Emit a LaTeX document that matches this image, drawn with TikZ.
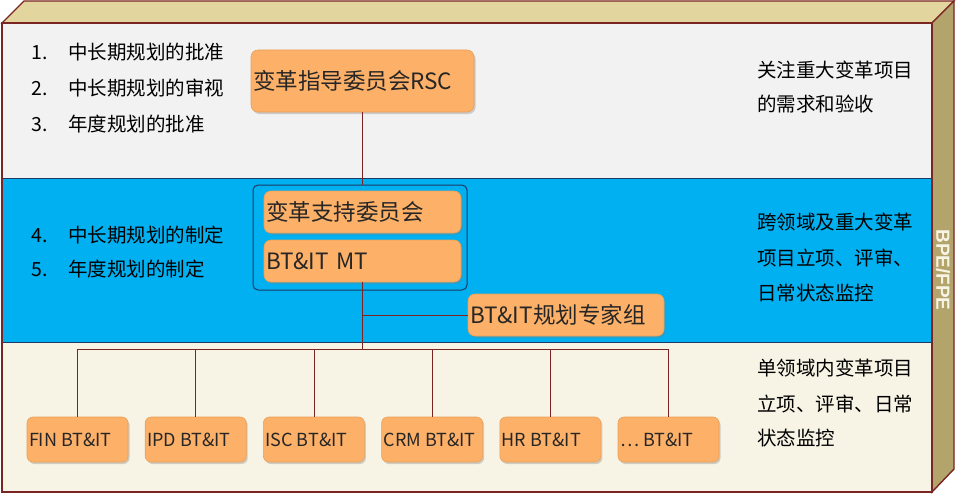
\documentclass[tikz,border=0pt]{standalone}
\usepackage{fontspec}
\setmainfont{Noto Sans CJK SC}
\newfontfamily\sidefont{Liberation Sans}
\usepackage{xcolor}
\usetikzlibrary{positioning,shadows}
\definecolor{frameRed}{HTML}{7B2424}
\definecolor{topFace}{HTML}{E2D69E}
\definecolor{sideFace}{HTML}{B3A46C}
\definecolor{bandGray}{HTML}{F2F2F2}
\definecolor{bandBlue}{HTML}{00B0F0}
\definecolor{bandCream}{HTML}{F8F4E5}
\definecolor{boxOrange}{HTML}{FDB068}
\definecolor{boxEdge}{HTML}{E9A15A}
\definecolor{navyLine}{HTML}{1F3864}
\definecolor{inkGray}{HTML}{262626}
\newcommand{\bigfs}{\fontsize{22.5}{25}\selectfont}
\newcommand{\notefs}{\fontsize{19.5}{22}\selectfont}
\newcommand{\unitfs}{\fontsize{18}{20}\selectfont}
\tikzset{
  role/.style  ={rectangle, rounded corners=7pt, fill=boxOrange, draw=boxEdge,
                 line width=0.6pt, inner sep=2pt, align=left, font=\bigfs,
                 text=inkGray,
                 drop shadow={opacity=0.35, shadow xshift=1.5pt, shadow yshift=-2pt}},
  unit/.style  ={role, rounded corners=6pt, font=\unitfs,
                 minimum width=101pt, minimum height=45pt},
  grp/.style   ={rectangle, rounded corners=5pt, draw=navyLine, line width=1pt,
                 fill=bandBlue},
  note/.style  ={anchor=west, inner sep=0pt, font=\notefs, text=black},
  link/.style  ={draw=frameRed, line width=0.8pt},
}
\begin{document}
\begin{tikzpicture}[x=1pt,y=-1pt]
\useasboundingbox (0,0) rectangle (964,495);
% --- the box: top, side and three bands ----------------------------
\fill[bandGray]  (2,23)  rectangle (932,178);
\fill[bandBlue]  (2,178) rectangle (932,342);
\fill[bandCream] (2,342) rectangle (932,492);
\draw[navyLine,line width=1pt] (2,178) -- (932,178);
\draw[navyLine,line width=1pt] (2,342) -- (932,342);
\draw[frameRed,line width=1.4pt,fill=topFace]
  (2,23) -- (24,1) -- (954,1) -- (932,23) -- cycle;
\draw[frameRed,line width=1.4pt,fill=sideFace]
  (932,23) -- (954,1) -- (954,469) -- (932,492) -- cycle;
\draw[frameRed,line width=1.4pt] (2,23) rectangle (932,492);
\node[rotate=-90, font=\sidefont\bfseries\fontsize{19}{21}\selectfont,
      text=bandCream] (side) at (943,270) {BPE/FPE};

% --- left notes -----------------------------------------------------
\node[note] (n1) at (31,52)  {\makebox[37pt][l]{1.}中长期规划的批准};
\node[note] (n2) at (31,88)  {\makebox[37pt][l]{2.}中长期规划的审视};
\node[note] (n3) at (31,124) {\makebox[37pt][l]{3.}年度规划的批准};
\node[note] (n4) at (31,235) {\makebox[37pt][l]{4.}中长期规划的制定};
\node[note] (n5) at (31,269) {\makebox[37pt][l]{5.}年度规划的制定};

% --- right notes ----------------------------------------------------
\node[note] (r1) at (757,70)  {关注重大变革项目};
\node[note] (r2) at (757,104) {的需求和验收};
\node[note] (r3) at (757,222) {跨领域及重大变革};
\node[note] (r4) at (757,258) {项目立项、评审、};
\node[note] (r5) at (757,293) {日常状态监控};
\node[note] (r6) at (757,368) {单领域内变革项目};
\node[note] (r7) at (757,404) {立项、评审、日常};
\node[note] (r8) at (757,438) {状态监控};

% --- committees -----------------------------------------------------
\node[grp, minimum width=214pt, minimum height=105pt] (board) at (360,237.5) {};
\node[role, minimum width=223pt, text width=219pt, minimum height=62pt]
  (rsc) at (362.5,81) {变革指导委员会RSC};
\node[role, minimum width=197pt, text width=193pt, minimum height=42pt]
  (support) at (362.5,212) {变革支持委员会};
\node[role, minimum width=197pt, text width=193pt, minimum height=42pt]
  (mt) at (362.5,261) {BT\&IT MT};
\node[role, minimum width=196pt, text width=192pt, minimum height=42pt]
  (expert) at (566,315) {BT\&IT规划专家组};

% --- domain units ---------------------------------------------------
\foreach \name [count=\i from 0] in {FIN,IPD,ISC,CRM,HR,{\ldots}}
  \node[unit] (u\i) at (77.5+118.2*\i,439.5)
    {\makebox[97pt][l]{\name\ BT\&IT}};

% --- connectors -----------------------------------------------------
\coordinate (bus) at (362.5,349);
\draw[link] (rsc.south) -- (rsc.south |- board.north);
\draw[link] (mt.south) -- (bus);
\draw[link] (mt.south |- expert.west) -- (expert.west);
\draw[link] (u0.north |- bus) -- (u5.north |- bus);
\foreach \i in {0,...,5}
  \draw[link] (u\i.north |- bus) -- (u\i.north);
\end{tikzpicture}
\end{document}
